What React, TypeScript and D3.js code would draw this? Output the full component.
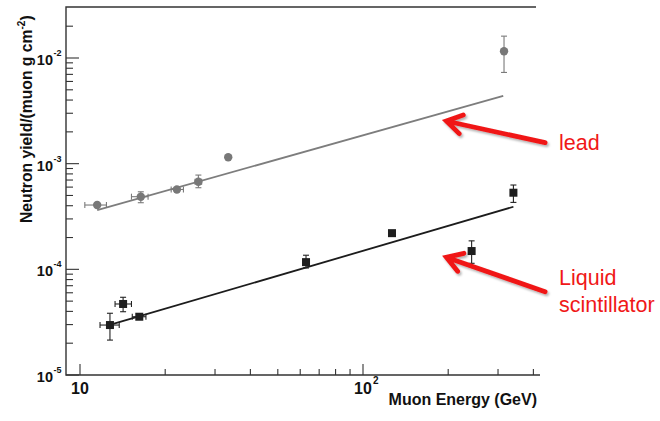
import { useEffect, useRef } from "react";
import * as d3 from "d3";

// lead (grey circles)
const leadE = [11.5, 16.4, 22.0, 26.2, 33.4, 315];
const leadY = [4.06e-4, 4.87e-4, 5.7e-4, 6.75e-4, 1.15e-3, 1.16e-2];
const leadElo = [10.4, 15.2, 21.0, 25.5, 33.4, 315];
const leadEhi = [12.4, 17.4, 23.2, 26.9, 33.4, 315];
const leadYlo = [4.06e-4, 4.27e-4, 5.5e-4, 5.92e-4, 1.15e-3, 7.3e-3];
const leadYhi = [4.06e-4, 5.42e-4, 5.9e-4, 7.8e-4, 1.15e-3, 1.61e-2];
const leadFitE = [11.5, 313];
const leadFitY = [3.64e-4, 4.38e-3];

// liquid scintillator (black squares)
const scE = [12.76, 14.2, 16.2, 62.9, 126.6, 242, 340];
const scY = [2.97e-5, 4.7e-5, 3.56e-5, 1.17e-4, 2.2e-4, 1.49e-4, 5.31e-4];
const scElo = [11.77, 13.3, 15.3, 62.9, 126.6, 242, 340];
const scEhi = [13.76, 15.2, 17.1, 62.9, 126.6, 242, 340];
const scYlo = [2.14e-5, 3.97e-5, 3.4e-5, 1.03e-4, 2.2e-4, 1.14e-4, 4.3e-4];
const scYhi = [3.84e-5, 5.44e-5, 3.7e-5, 1.36e-4, 2.2e-4, 1.86e-4, 6.28e-4];
const scFitE = [13.1, 340];
const scFitY = [3.04e-5, 3.91e-4];

// axes
const xMajor = [10, 100];
const xMajorLabels = [["10", ""], ["10", "2"]];
const xMinor = [20, 30, 40, 50, 60, 70, 80, 90, 200, 300, 400];
const yMajor = [1e-5, 1e-4, 1e-3, 1e-2];
const yMajorExp = ["-5", "-4", "-3", "-2"];
const yMinorMult = [2, 3, 4, 5, 6, 7, 8, 9];

// annotations: arrow head / tail in data coords
const arrowHeadE = [197, 197];
const arrowHeadY = [2.53e-3, 1.3e-4];
const arrowTailE = [440, 440];
const arrowTailY = [1.58e-3, 6.14e-5];
const labelE = [493, 493, 493];
const labelY = [1.345e-3, 7.1e-5, 3.97e-5];
const labelText = ["lead", "Liquid", "scintillator"];

const FONT = "'Liberation Sans', Arial, Helvetica, sans-serif";

export default function App() {
  const svgRef = useRef<SVGSVGElement>(null);

  useEffect(() => {
    if (!svgRef.current) return;
    const svg = d3.select(svgRef.current);
    svg.selectAll("*").remove();

    const x = d3.scaleLog().domain([10, 100]).range([80, 363]);
    const y = d3.scaleLog().domain([1e-5, 1e-2]).range([375, 58]);
    const left = 66, right = 536, top = 7, bottom = 375;

    const defs = svg.append("defs");
    const f = defs.append("filter").attr("id", "shadow").attr("x", "-20%").attr("y", "-40%").attr("width", "140%").attr("height", "180%");
    f.append("feDropShadow").attr("dx", 1.5).attr("dy", 2).attr("stdDeviation", 1.3).attr("flood-color", "#000").attr("flood-opacity", 0.3);

    // frame
    const axisCol = "#333";
    svg.append("path")
      .attr("d", `M${right},${top}H${left}V${bottom}H${right + 4}`)
      .attr("fill", "none").attr("stroke", axisCol).attr("stroke-width", 1.4);

    // x ticks
    const xt = svg.append("g").attr("stroke", axisCol).attr("stroke-width", 1.1);
    xMajor.forEach((v) => xt.append("line").attr("x1", x(v)).attr("x2", x(v)).attr("y1", bottom).attr("y2", bottom - 11));
    xMinor.forEach((v) => {
      if (x(v) < right) xt.append("line").attr("x1", x(v)).attr("x2", x(v)).attr("y1", bottom).attr("y2", bottom - 6);
    });

    // y ticks
    const yt = svg.append("g").attr("stroke", axisCol).attr("stroke-width", 1.1);
    yMajor.forEach((v) => yt.append("line").attr("x1", left).attr("x2", left + 13).attr("y1", y(v)).attr("y2", y(v)));
    yMajor.forEach((v) => {
      yMinorMult.forEach((m) => {
        const yy = y(v * m);
        if (yy > top + 2) yt.append("line").attr("x1", left).attr("x2", left + 7).attr("y1", yy).attr("y2", yy);
      });
    });

    // x tick labels
    xMajor.forEach((v, i) => {
      svg.append("text").attr("x", x(v)).attr("y", 394).attr("text-anchor", "middle")
        .attr("font-family", FONT).attr("font-weight", "bold").attr("font-size", 16).attr("fill", "#111")
        .text(xMajorLabels[i][0]);
      if (xMajorLabels[i][1]) {
        svg.append("text").attr("x", x(v) + 10).attr("y", 384)
          .attr("font-family", FONT).attr("font-weight", "bold").attr("font-size", 10).attr("fill", "#111")
          .text(xMajorLabels[i][1]);
      }
    });

    // y tick labels
    yMajor.forEach((v, i) => {
      const yy = y(v);
      svg.append("text").attr("x", 53).attr("y", yy + 7).attr("text-anchor", "end")
        .attr("font-family", FONT).attr("font-weight", "bold").attr("font-size", 14.5).attr("fill", "#111")
        .text("10");
      svg.append("text").attr("x", 53.5).attr("y", yy - 2)
        .attr("font-family", FONT).attr("font-weight", "bold").attr("font-size", 9).attr("fill", "#111")
        .text(yMajorExp[i]);
    });

    // axis titles
    svg.append("text").attr("x", 537).attr("y", 405).attr("text-anchor", "end")
      .attr("font-family", FONT).attr("font-weight", "bold").attr("font-size", 16).attr("fill", "#111")
      .text("Muon Energy (GeV)");
    const yTitle = svg.append("text").attr("transform", "translate(32,223) rotate(-90)")
      .attr("font-family", FONT).attr("font-weight", "bold").attr("font-size", 15.7).attr("fill", "#111");
    yTitle.append("tspan").text("Neutron yield/(muon g cm");
    yTitle.append("tspan").attr("dy", -7).attr("font-size", 10).text("-2");
    yTitle.append("tspan").attr("dy", 7).text(")");

    // fit lines
    const line = d3.line<[number, number]>().x((d) => x(d[0])).y((d) => y(d[1]));
    svg.append("path").attr("d", line(leadFitE.map((e, i) => [e, leadFitY[i]]) as [number, number][]))
      .attr("fill", "none").attr("stroke", "#7d7d7d").attr("stroke-width", 1.8);
    svg.append("path").attr("d", line(scFitE.map((e, i) => [e, scFitY[i]]) as [number, number][]))
      .attr("fill", "none").attr("stroke", "#1c1c1c").attr("stroke-width", 1.8);

    // error bars
    const drawErr = (E: number[], Y: number[], Elo: number[], Ehi: number[], Ylo: number[], Yhi: number[], col: string) => {
      const g = svg.append("g").attr("stroke", col).attr("stroke-width", 1.1).attr("fill", "none");
      E.forEach((e, i) => {
        const cx = x(e), cy = y(Y[i]);
        if (Ylo[i] !== Yhi[i]) {
          g.append("line").attr("x1", cx).attr("x2", cx).attr("y1", y(Ylo[i])).attr("y2", y(Yhi[i]));
          [Ylo[i], Yhi[i]].forEach((v) => g.append("line").attr("x1", cx - 3).attr("x2", cx + 3).attr("y1", y(v)).attr("y2", y(v)));
        }
        if (Elo[i] !== Ehi[i]) {
          g.append("line").attr("x1", x(Elo[i])).attr("x2", x(Ehi[i])).attr("y1", cy).attr("y2", cy);
          [Elo[i], Ehi[i]].forEach((v) => g.append("line").attr("x1", x(v)).attr("x2", x(v)).attr("y1", cy - 3).attr("y2", cy + 3));
        }
      });
    };
    drawErr(leadE, leadY, leadElo, leadEhi, leadYlo, leadYhi, "#7a7a7a");
    drawErr(scE, scY, scElo, scEhi, scYlo, scYhi, "#222");

    // markers
    svg.append("g").selectAll("circle").data(leadE).enter().append("circle")
      .attr("cx", (d) => x(d)).attr("cy", (_d, i) => y(leadY[i])).attr("r", 4.2).attr("fill", "#787878");
    svg.append("g").selectAll("rect").data(scE).enter().append("rect")
      .attr("x", (d) => x(d) - 4).attr("y", (_d, i) => y(scY[i]) - 4)
      .attr("width", 8).attr("height", 8).attr("fill", "#1e1e1e");

    // arrows
    const red = "#f01818";
    arrowHeadE.forEach((he, i) => {
      const hx = x(he), hy = y(arrowHeadY[i]);
      const tx = x(arrowTailE[i]), ty = y(arrowTailY[i]);
      const ang = Math.atan2(ty - hy, tx - hx);
      const len = 18, spread = (32 * Math.PI) / 180;
      const a1 = [hx + len * Math.cos(ang - spread), hy + len * Math.sin(ang - spread)];
      const a2 = [hx + len * Math.cos(ang + spread), hy + len * Math.sin(ang + spread)];
      svg.append("path")
        .attr("d", `M${tx},${ty}L${hx + 2 * Math.cos(ang)},${hy + 2 * Math.sin(ang)}M${a1[0]},${a1[1]}L${hx},${hy}L${a2[0]},${a2[1]}`)
        .attr("fill", "none").attr("stroke", red).attr("stroke-width", 4.8)
        .attr("stroke-linecap", "round").attr("stroke-linejoin", "miter")
        .attr("filter", "url(#shadow)");
    });

    // labels
    labelText.forEach((t, i) => {
      svg.append("text").attr("x", x(labelE[i])).attr("y", y(labelY[i]))
        .attr("font-family", FONT).attr("font-size", 21.5).attr("fill", red)
        .text(t);
    });
  }, []);

  return (
    <svg
      ref={svgRef}
      width={660}
      height={421}
      style={{ position: "absolute", left: 0, top: 0, background: "#fff" }}
    />
  );
}
